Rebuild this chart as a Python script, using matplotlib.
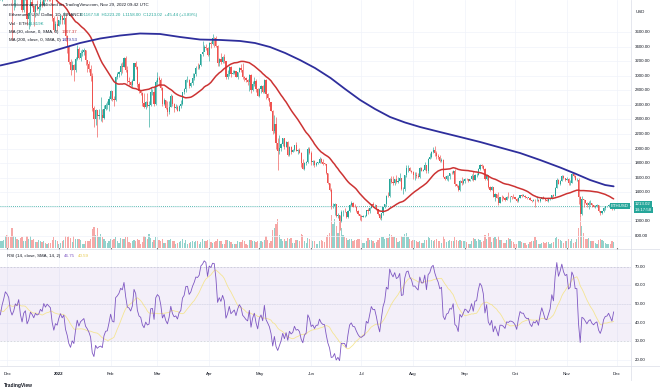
import numpy as np
import pandas as pd
import matplotlib
matplotlib.use("Agg")
import matplotlib.pyplot as plt
from matplotlib.lines import Line2D

plt.rcParams['font.family'] = ['Liberation Sans', 'DejaVu Sans']

# ---------------- data ----------------
start_date = "2021-11-27"
# closes before the first visible candle (2021-10-29 .. 2021-11-26), needed for MA30 / RSI
pre_close = [4420, 4330, 4290,
             4320, 4590, 4605, 4530, 4475, 4520, 4620, 4810, 4730, 4640,
             4730, 4665, 4650, 4625, 4565, 4230, 4290, 3990, 4295, 4410,
             4250, 4085, 4335, 4270, 4520, 4040]

close = [
    4095, 4295, 4445, 4632,
    4587, 4519, 4240, 4119, 4198, 4347, 4308, 4435, 4111, 3908, 4085, 4133, 3784, 3862, 4019, 3962, 3880, 3961, 3924, 3941, 4019, 3981, 4109, 4048, 4095, 4066, 4039, 3797, 3628, 3713, 3683,
    3769, 3829, 3762, 3795, 3542, 3411, 3195, 3081, 3156, 3082, 3238, 3374, 3250, 3309, 3330, 3350, 3212, 3162, 3096, 2994, 2559, 2405, 2537, 2442, 2459, 2467, 2425, 2548, 2600, 2605, 2688,
    2792, 2680, 2666, 2990, 3019, 3060, 3140, 3123, 3242, 3076, 2928, 2915, 2872, 2934, 3178, 3125, 2885, 2786, 2764, 2627, 2573, 2638, 2588, 2598, 2775, 2780, 2619, 2920,
    2973, 2947, 2834, 2617, 2665, 2557, 2496, 2577, 2727, 2609, 2555, 2566, 2517, 2591, 2617, 2774, 2813, 2944, 2947, 2861, 2896, 2973, 3030, 3113, 3109, 3144, 3298, 3333, 3396, 3385, 3282,
    3456, 3444, 3523, 3521, 3412, 3171, 3231, 3189, 3263, 3208, 2983, 3032, 3118, 3020, 3041, 3061, 2991, 3057, 3104, 3077, 2987, 2964, 2937, 2922, 3007, 2808, 2889, 2935, 2815, 2727,
    2825, 2857, 2783, 2941, 2748, 2695, 2636, 2518, 2243, 2342, 2080, 1960, 2012, 2064, 2147, 2024, 2091, 1913, 2017, 1959, 1976, 2043, 1972, 1979, 1943, 1802, 1724, 1794, 1812, 1997, 1942,
    1816, 1832, 1775, 1805, 1806, 1859, 1813, 1793, 1790, 1661, 1529, 1436, 1208, 1212, 1236, 1068, 1087, 996, 1128, 1128, 1125, 1052, 1144, 1226, 1244, 1199, 1195, 1144, 1099, 1067,
    1060, 1067, 1074, 1151, 1134, 1186, 1239, 1216, 1218, 1168, 1097, 1037, 1112, 1192, 1233, 1353, 1340, 1577, 1543, 1523, 1577, 1538, 1551, 1597, 1443, 1449, 1636, 1726, 1738, 1696, 1678,
    1632, 1634, 1620, 1608, 1734, 1697, 1698, 1776, 1685, 1852, 1879, 1957, 1982, 1935, 1902, 1877, 1834, 1848, 1613, 1577, 1620, 1627, 1662, 1657, 1696, 1508, 1490, 1428, 1553, 1524, 1553,
    1586, 1577, 1556, 1576, 1617, 1562, 1633, 1635, 1718, 1777, 1762, 1716, 1574, 1636, 1473, 1436, 1471, 1336, 1378, 1325, 1252, 1329, 1328, 1317, 1294, 1335, 1330, 1338, 1336, 1328,
    1311, 1276, 1323, 1362, 1352, 1352, 1331, 1322, 1323, 1292, 1279, 1295, 1289, 1297, 1275, 1306, 1331, 1310, 1286, 1283, 1299, 1315, 1364, 1344, 1460, 1566, 1513, 1555, 1619, 1588, 1572,
    1581, 1519, 1530, 1645, 1627, 1568, 1568, 1333, 1100, 1300, 1287, 1256, 1221, 1244, 1253, 1216, 1200, 1212, 1218, 1142, 1108, 1134, 1184, 1203, 1205, 1220, 1194, 1168, 1213.02,
]

high = [
    4170, 4300, 4460, 4780,
    4778, 4650, 4650, 4240, 4320, 4390, 4420, 4480, 4450, 4220, 4140, 4180, 4140, 3885, 4100, 4110, 3980, 3995, 4050, 3955, 4070, 4050, 4150, 4140, 4125, 4110, 4125, 4060, 3825, 3760, 3820,
    3770, 3850, 3840, 3880, 3850, 3560, 3420, 3230, 3200, 3170, 3260, 3420, 3400, 3350, 3370, 3380, 3360, 3220, 3200, 3150, 3040, 2580, 2550, 2500, 2540, 2710, 2545, 2600, 2630, 2655, 2720,
    2810, 2790, 2720, 3000, 3050, 3070, 3180, 3190, 3260, 3280, 3140, 2990, 2930, 2950, 3180, 3200, 3130, 2910, 2800, 2780, 2770, 2650, 2760, 2650, 2850, 2820, 2850, 2940,
    3050, 3000, 2970, 2850, 2690, 2670, 2650, 2650, 2750, 2730, 2630, 2610, 2600, 2600, 2670, 2780, 2830, 2950, 3000, 2950, 2920, 3040, 3040, 3130, 3180, 3160, 3300, 3480, 3420, 3440, 3400,
    3470, 3480, 3580, 3540, 3550, 3420, 3250, 3320, 3270, 3300, 3210, 3080, 3140, 3130, 3080, 3080, 3070, 3060, 3120, 3170, 3180, 3000, 2980, 2950, 3020, 3030, 2930, 2990, 2950, 2830,
    2830, 2880, 2870, 2960, 2960, 2760, 2700, 2640, 2530, 2460, 2440, 2150, 2180, 2080, 2150, 2150, 2110, 2100, 2040, 2040, 1990, 2050, 2090, 2000, 2010, 1950, 1850, 1820, 1830, 2020, 2020,
    1970, 1840, 1840, 1810, 1820, 1890, 1870, 1850, 1800, 1790, 1670, 1530, 1450, 1250, 1250, 1240, 1110, 1090, 1150, 1160, 1180, 1130, 1150, 1230, 1280, 1270, 1240, 1210, 1150, 1100,
    1080, 1080, 1090, 1155, 1180, 1190, 1240, 1270, 1230, 1220, 1170, 1100, 1115, 1200, 1240, 1355, 1400, 1590, 1620, 1620, 1580, 1640, 1610, 1660, 1600, 1465, 1640, 1780, 1770, 1750, 1710,
    1690, 1680, 1680, 1670, 1740, 1740, 1725, 1810, 1780, 1865, 1940, 1960, 2020, 2030, 1960, 1930, 1910, 1870, 1850, 1620, 1630, 1630, 1670, 1690, 1710, 1720, 1510, 1500, 1560, 1605, 1580,
    1595, 1600, 1580, 1580, 1650, 1690, 1650, 1670, 1730, 1790, 1790, 1770, 1730, 1650, 1640, 1480, 1480, 1470, 1390, 1380, 1395, 1330, 1360, 1350, 1330, 1340, 1400, 1350, 1350, 1370,
    1330, 1320, 1330, 1365, 1370, 1380, 1355, 1335, 1325, 1335, 1290, 1300, 1300, 1340, 1300, 1310, 1335, 1340, 1315, 1310, 1305, 1320, 1365, 1370, 1470, 1590, 1580, 1560, 1640, 1630, 1600,
    1610, 1590, 1560, 1660, 1670, 1640, 1600, 1590, 1350, 1340, 1300, 1290, 1270, 1280, 1290, 1250, 1225, 1220, 1230, 1220, 1145, 1140, 1190, 1210, 1215, 1230, 1250, 1200, 1223.2,
]

low = [
    4040, 4035, 4280, 4420,
    4480, 4450, 4150, 3500, 3900, 3950, 4260, 4260, 4080, 3880, 3880, 4040, 3700, 3650, 3690, 3950, 3680, 3810, 3910, 3850, 3900, 3950, 3960, 4030, 4030, 4035, 4035, 3760, 3600, 3620, 3630,
    3680, 3720, 3710, 3720, 3480, 3320, 3170, 3010, 3080, 2930, 3050, 3220, 3230, 3200, 3280, 3290, 3150, 3050, 3050, 2930, 2520, 2300, 2320, 2160, 2400, 2380, 2360, 2400, 2530, 2540, 2520,
    2670, 2660, 2590, 2660, 2960, 2990, 3010, 3040, 3120, 3050, 2900, 2880, 2860, 2850, 2950, 3100, 2850, 2760, 2740, 2580, 2560, 2550, 2570, 2300, 2590, 2730, 2580, 2600,
    2860, 2860, 2800, 2580, 2600, 2550, 2450, 2480, 2570, 2580, 2500, 2550, 2510, 2510, 2560, 2600, 2750, 2780, 2920, 2830, 2840, 2880, 2940, 3000, 3090, 3090, 3130, 3280, 3340, 3350, 3270,
    3210, 3380, 3420, 3400, 3400, 3140, 3130, 3160, 3180, 3180, 2960, 2950, 3000, 2990, 3020, 3020, 2980, 2950, 3050, 3050, 2950, 2930, 2920, 2880, 2790, 2770, 2790, 2860, 2780, 2720,
    2710, 2770, 2760, 2770, 2680, 2670, 2590, 2510, 2200, 2210, 2000, 1700, 1920, 1960, 2030, 2000, 2020, 1900, 1900, 1930, 1950, 1965, 1960, 1920, 1935, 1750, 1720, 1700, 1780, 1800, 1930,
    1780, 1780, 1740, 1765, 1790, 1800, 1800, 1780, 1780, 1650, 1510, 1420, 1170, 1180, 1080, 1060, 1050, 880, 990, 1070, 1120, 1050, 1050, 1130, 1210, 1190, 1190, 1130, 1090, 1010,
    1000, 1060, 1060, 1070, 1100, 1110, 1180, 1190, 1200, 1150, 1090, 1030, 1010, 1090, 1175, 1210, 1330, 1330, 1520, 1500, 1500, 1530, 1530, 1550, 1430, 1370, 1420, 1610, 1680, 1690, 1670,
    1580, 1570, 1600, 1590, 1600, 1690, 1690, 1700, 1660, 1660, 1850, 1870, 1940, 1900, 1850, 1860, 1820, 1820, 1610, 1570, 1560, 1550, 1580, 1650, 1650, 1490, 1470, 1420, 1420, 1500, 1510,
    1520, 1570, 1540, 1550, 1570, 1550, 1560, 1610, 1630, 1700, 1730, 1700, 1560, 1560, 1460, 1420, 1430, 1330, 1280, 1320, 1220, 1250, 1280, 1310, 1280, 1290, 1320, 1260, 1310, 1320,
    1300, 1270, 1270, 1320, 1330, 1340, 1320, 1300, 1315, 1290, 1270, 1275, 1190, 1280, 1270, 1270, 1300, 1300, 1280, 1275, 1270, 1295, 1300, 1330, 1340, 1450, 1505, 1495, 1550, 1580, 1550,
    1560, 1500, 1500, 1520, 1610, 1570, 1550, 1230, 1070, 1080, 1200, 1250, 1200, 1170, 1220, 1200, 1190, 1180, 1200, 1130, 1080, 1100, 1130, 1160, 1190, 1190, 1190, 1150, 1158,
]

volume = [
    300, 330, 380, 560,
    600, 480, 520, 900, 550, 520, 400, 380, 470, 500, 330, 300, 560, 430, 540, 380, 430, 280, 260, 360, 300, 280, 300, 220, 180, 220, 230, 380, 480, 350, 300,
    180, 230, 300, 350, 560, 500, 540, 450, 260, 560, 420, 410, 400, 350, 190, 190, 310, 330, 340, 420, 850, 950, 600, 900, 500, 650, 480, 430, 300, 240, 320,
    410, 380, 390, 520, 330, 240, 450, 400, 390, 480, 500, 280, 210, 330, 380, 330, 400, 380, 200, 290, 530, 500, 420, 650, 450, 270, 380, 500,
    480, 350, 330, 420, 210, 240, 380, 380, 430, 320, 300, 180, 220, 280, 310, 410, 250, 360, 180, 220, 280, 310, 280, 300, 300, 160, 270, 400, 320, 300, 380,
    420, 260, 230, 290, 300, 420, 320, 300, 170, 180, 380, 350, 300, 270, 200, 160, 200, 300, 260, 280, 360, 300, 180, 150, 370, 380, 320, 320, 280, 300,
    220, 300, 260, 380, 550, 370, 240, 320, 800, 900, 1100, 1300, 600, 420, 300, 420, 330, 450, 420, 450, 230, 240, 350, 350, 300, 650, 600, 320, 250, 470, 400,
    380, 340, 300, 200, 180, 320, 370, 300, 270, 500, 600, 700, 1500, 1100, 1300, 1000, 700, 1300, 900, 600, 500, 450, 380, 430, 420, 330, 380, 370, 400, 420,
    370, 250, 240, 330, 450, 380, 360, 320, 230, 260, 380, 450, 520, 480, 420, 460, 460, 650, 580, 500, 520, 440, 280, 330, 530, 500, 650, 680, 500, 400, 330,
    380, 380, 300, 280, 330, 230, 240, 380, 360, 480, 450, 380, 330, 350, 420, 330, 300, 230, 550, 420, 280, 330, 370, 300, 300, 500, 360, 320, 350, 330, 300,
    310, 290, 180, 170, 330, 450, 430, 340, 420, 350, 280, 330, 600, 420, 700, 480, 270, 450, 480, 400, 550, 380, 370, 220, 230, 350, 450, 430, 320, 280,
    200, 180, 300, 320, 270, 240, 250, 150, 160, 280, 300, 320, 480, 360, 160, 170, 250, 280, 230, 260, 270, 160, 230, 280, 450, 500, 420, 350, 320, 250, 300,
    310, 400, 330, 420, 240, 280, 430, 900, 1450, 1000, 700, 400, 400, 450, 330, 330, 300, 220, 160, 350, 420, 350, 300, 220, 190, 160, 200, 300, 260,
]

# MA 200 (day index from 2021-11-27, value)
ma200_day = [0, 11.8, 23.7, 35.7, 47.7, 59.7, 71.6, 83.6, 95.6, 107.5, 119.5, 131.5, 143.4, 152.4,
             161.4, 170.4, 179.3, 188.3, 197.6, 206.3, 215.3, 224.2, 233.2, 242.2, 251.2, 263.1,
             275.1, 287.1, 299.0, 311.0, 323.0, 335.0, 343.9, 352.9, 361.9, 367]
ma200_val = [3143, 3205, 3287, 3370, 3452, 3514, 3555, 3583, 3576, 3535, 3500, 3494, 3480, 3452,
             3397, 3315, 3218, 3108, 2971, 2819, 2668, 2544, 2434, 2358, 2296, 2227,
             2159, 2090, 2014, 1938, 1842, 1739, 1656, 1567, 1498, 1479.53]

price_ticks = [800, 1000, 1400, 1600, 1800, 2000, 2200, 2400, 2600, 2800, 3000, 3200, 3400, 3600]
rsi_ticks = [20, 30, 40, 50, 60, 70]
month_labels = ['Dec', '2022', 'Feb', 'Mar', 'Apr', 'May', 'Jun', 'Jul', 'Aug', 'Sep', 'Oct', 'Nov', 'Dec']
month_starts = ['2021-12-01', '2022-01-01', '2022-02-01', '2022-03-01', '2022-04-01', '2022-05-01',
                '2022-06-01', '2022-07-01', '2022-08-01', '2022-09-01', '2022-10-01', '2022-11-01', '2022-12-01']

assert len(close) == len(high) == len(low) == len(volume)

# ---------------- derived ----------------
n = len(close)
day = np.arange(n)
c = np.array(close, float)
o = np.concatenate([[pre_close[-1]], c[:-1]])
h = np.array(high, float)
l = np.array(low, float)
v = np.array(volume, float)
up = c >= o
tick_days = [(pd.Timestamp(d) - pd.Timestamp(start_date)).days for d in month_starts]

allc = np.array(pre_close + close, float)
npre = len(pre_close)
ma30 = pd.Series(allc).rolling(30).mean().values[npre:]

delta = np.diff(allc)
gain = np.clip(delta, 0, None)
loss = np.clip(-delta, 0, None)
N = 14
ag = np.full(len(delta), np.nan)
al = np.full(len(delta), np.nan)
ag[N - 1] = gain[:N].mean()
al[N - 1] = loss[:N].mean()
for i in range(N, len(delta)):
    ag[i] = (ag[i - 1] * (N - 1) + gain[i]) / N
    al[i] = (al[i - 1] * (N - 1) + loss[i]) / N
rsi_all = 100 - 100 / (1 + ag / al)
rsi_ma_all = pd.Series(rsi_all).rolling(14).mean().values
rsi = rsi_all[npre - 1:]
rsi_ma = rsi_ma_all[npre - 1:]

# ---------------- figure ----------------
W, H = 660, 392
fig = plt.figure(figsize=(6.6, 3.92), dpi=100)
fig.patch.set_facecolor('white')


def rect(x0, y0, x1, y1):
    return [x0 / W, 1 - y1 / H, (x1 - x0) / W, (y1 - y0) / H]


def px(x, y):
    return x / W, 1 - y / H


XR = 631
xlim = (-0.2, 377.4)
UPC, DNC = '#26a69a', '#ef5350'
GRID = '#f0f3fa'
TXT = '#131722'
MA30C, MA200C = '#cc3333', '#2e2e9c'
FS = 3.2
PTOP, PBOT = 4044, 631

# volume overlay (behind)
axv = fig.add_axes(rect(0, 0, XR, 248))
axv.set_xlim(*xlim)
axv.set_ylim(0, 1500 * 248 / 33)
axv.bar(day, v, width=0.75, color=np.where(up, UPC, DNC), alpha=0.5, linewidth=0)
axv.axis('off')

# price pane
ax = fig.add_axes(rect(0, 0, XR, 248), sharex=axv)
ax.patch.set_alpha(0)
ax.set_ylim(PBOT, PTOP)
for t in price_ticks + [1200]:
    ax.axhline(t, color=GRID, lw=0.5, zorder=0)
for t in tick_days:
    ax.axvline(t, color=GRID, lw=0.5, zorder=0)
cols = np.where(up, UPC, DNC)
ax.vlines(day, l, h, colors=cols, lw=0.45, zorder=2)
ax.bar(day, np.maximum(np.abs(c - o), 4), bottom=np.minimum(o, c), width=0.7,
       color=cols, linewidth=0, zorder=3)
ax.plot(day, ma30, color=MA30C, lw=1.1, zorder=4, solid_capstyle='round', solid_joinstyle='round')
ax.plot(ma200_day, ma200_val, color=MA200C, lw=1.3, zorder=4, solid_capstyle='round', solid_joinstyle='round')
ax.axhline(c[-1], color=UPC, lw=0.6, ls=(0, (1, 1.5)), zorder=1)
ax.set_xticks([])
ax.set_yticks([])
for s in ax.spines.values():
    s.set_visible(False)

# RSI pane
axr = fig.add_axes(rect(0, 250, XR, 366), sharex=axv)
axr.set_ylim(16.6, 79.1)
axr.set_xlim(*xlim)
for t in tick_days:
    axr.axvline(t, color=GRID, lw=0.5, zorder=0)
for t in rsi_ticks:
    axr.axhline(t, color=GRID, lw=0.5, zorder=0)
axr.axhspan(30, 70, color='#7e57c2', alpha=0.09, lw=0)
axr.axhline(70, color='#787b86', lw=0.4, ls=(0, (3, 3)), alpha=0.4)
axr.axhline(50, color='#787b86', lw=0.4, ls=(0, (1, 2)), alpha=0.3)
axr.axhline(30, color='#787b86', lw=0.4, ls=(0, (3, 3)), alpha=0.4)
axr.plot(day, rsi_ma, color='#f5e27a', lw=0.6, alpha=0.8)
axr.plot(day, rsi, color='#7e57c2', lw=0.6)
axr.set_xticks(tick_days)
axr.set_xticklabels(month_labels)
for lab in axr.get_xticklabels():
    lab.set_fontsize(FS)
    lab.set_color(TXT)
    if lab.get_text() == '2022':
        lab.set_fontweight('bold')
axr.tick_params(axis='x', length=0, pad=4)
axr.set_yticks([])
for s in axr.spines.values():
    s.set_visible(False)

# labels on the right scales
for t in price_ticks:
    y = 248 * (PTOP - t) / (PTOP - PBOT)
    fig.text(*px(635, y), f"{t:.2f}", fontsize=FS, color=TXT, va='center', ha='left')
for t in rsi_ticks:
    y = 250 + 116 * (79.1 - t) / (79.1 - 16.6)
    fig.text(*px(635, y), f"{t:.2f}", fontsize=FS, color=TXT, va='center', ha='left')

# separators
for (x0, y0, x1, y1) in [(XR, 0, XR, 380), (0, 249, 660, 249), (0, 366, 660, 366)]:
    fig.add_artist(Line2D([x0 / W, x1 / W], [1 - y0 / H, 1 - y1 / H], color='#e0e3eb', lw=0.6))

# current price boxes
ycp = 248 * (PTOP - c[-1]) / (PTOP - PBOT)
fig.text(*px(635, ycp - 1.5), f"{c[-1]:.2f}", fontsize=FS, color='white', va='center', ha='left',
         bbox=dict(boxstyle='square,pad=0.25', fc=UPC, ec='none'))
fig.text(*px(635, ycp + 4.5), "14:17:58", fontsize=FS, color='white', va='center', ha='left',
         bbox=dict(boxstyle='square,pad=0.25', fc=UPC, ec='none'))
fig.text(*px(611, ycp), "ETHUSD", fontsize=FS, color='white', va='center', ha='left',
         bbox=dict(boxstyle='square,pad=0.25', fc=UPC, ec='none'))
fig.text(*px(636, 12), "USD", fontsize=FS, color=TXT, va='center', ha='left')

# legends
fig.text(*px(3, 5), "weetabixnonname published on TradingView.com, Nov 29, 2022 09:42 UTC",
         fontsize=FS, color=TXT, va='center', ha='left')
fig.text(*px(9, 15), "Ethereum / U.S. Dollar, 1D, BINANCE", fontsize=FS, color=TXT, va='center', ha='left')
fig.text(*px(80, 15), "O1167.58  H1223.20  L1158.00  C1213.02  +45.44 (+3.89%)", fontsize=FS,
         color=UPC, va='center', ha='left')
fig.text(*px(9, 24), "Vol · ETH", fontsize=FS, color=TXT, va='center', ha='left')
fig.text(*px(28, 24), "44.819K", fontsize=FS, color=UPC, va='center', ha='left')
fig.text(*px(9, 32), "MA (30, close, 0, SMA, 0)", fontsize=FS, color=TXT, va='center', ha='left')
fig.text(*px(62, 32), f"{ma30[-1]:.2f}", fontsize=FS, color=MA30C, va='center', ha='left')
fig.text(*px(9, 40), "MA (200, close, 0, SMA, 0)", fontsize=FS, color=TXT, va='center', ha='left')
fig.text(*px(62, 40), "1479.53", fontsize=FS, color=MA200C, va='center', ha='left')
fig.text(*px(7, 256), "RSI (14, close, SMA, 14, 2)", fontsize=FS, color=TXT, va='center', ha='left')
fig.text(*px(64, 256), "46.75", fontsize=FS, color='#7e57c2', va='center', ha='left')
fig.text(*px(78, 256), f"{rsi_ma[-1]:.2f}", fontsize=FS, color='#e6c84a', va='center', ha='left')
fig.text(*px(4, 385), "TradingView", fontsize=FS + 0.3, color=TXT, va='center', ha='left',
         fontweight='bold')

fig.savefig("out.png", dpi=100, facecolor='white')
